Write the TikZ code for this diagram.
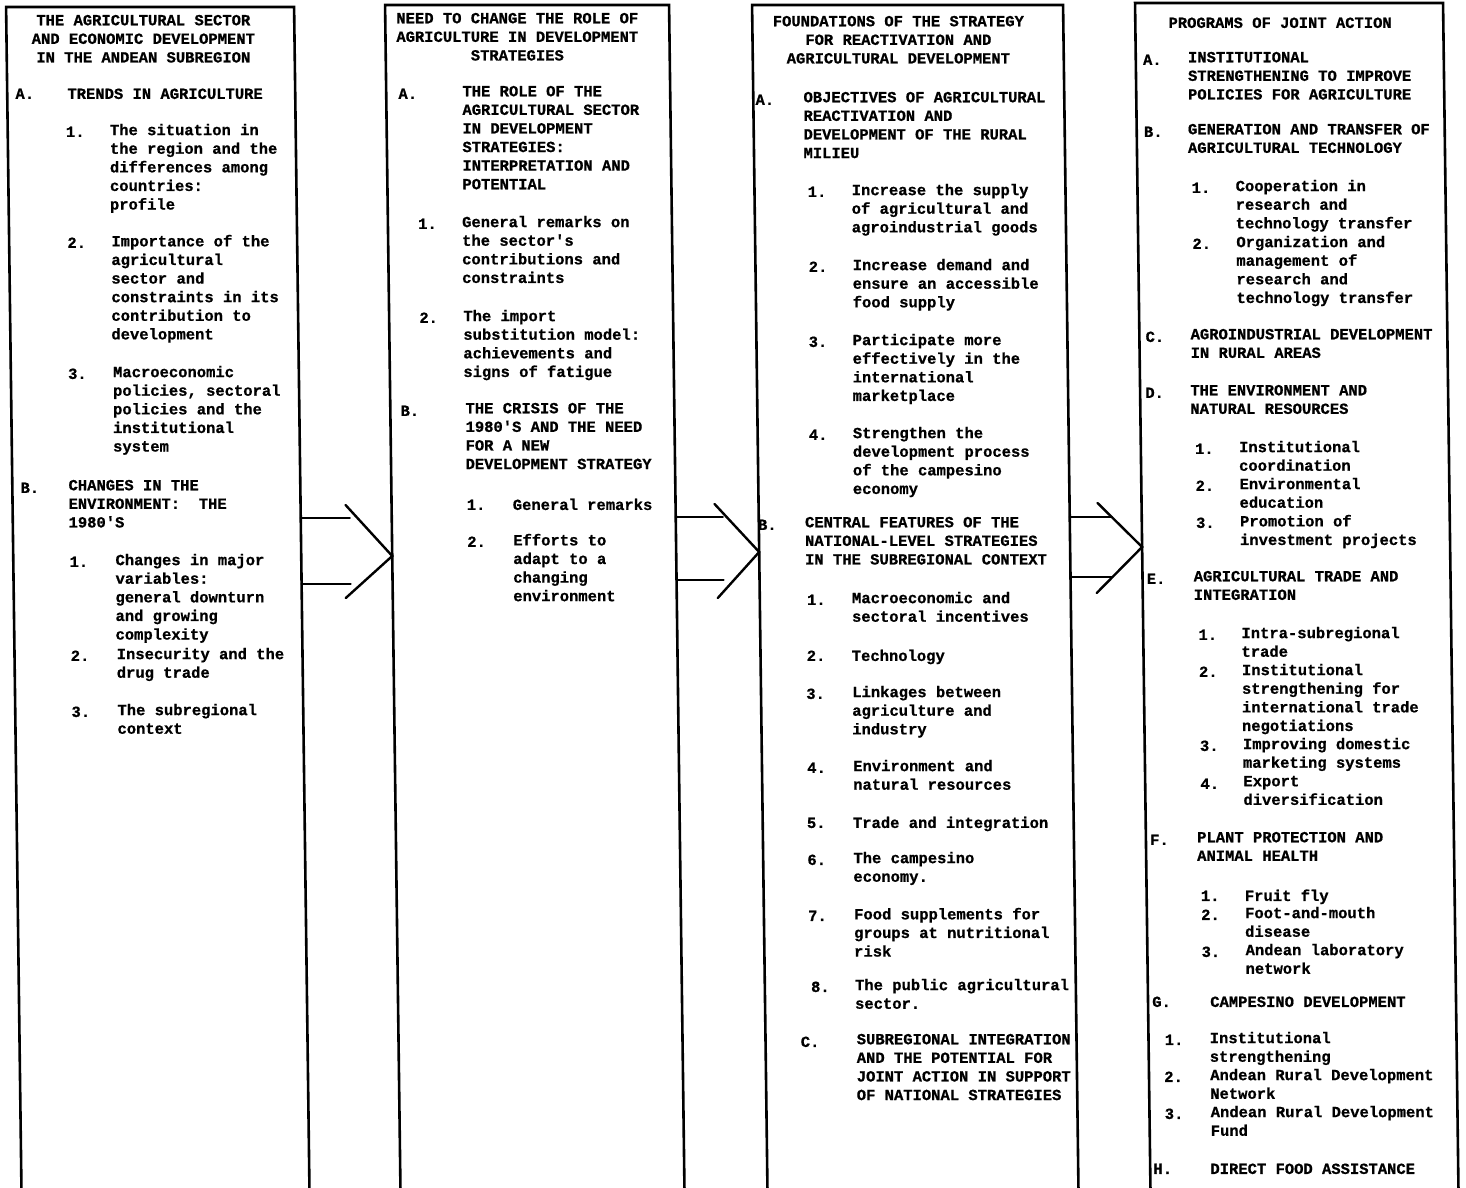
\documentclass[tikz,border=0pt]{standalone}
\usepackage{fontspec}
\usepackage{tikz}
\newfontfamily\tw{Liberation Mono}[BoldFeatures={FakeBold=0.8}]
\newcommand{\twfont}{\tw\bfseries\fontsize{15.5}{18.6}\selectfont\frenchspacing}

\tikzset{
  ttl/.style={anchor=north, yshift=11.3pt, align=center, inner sep=0pt, font=\twfont, execute at begin node=\strut},
  lbl/.style={anchor=north west, yshift=11.3pt, inner sep=0pt, font=\twfont, execute at begin node=\strut},
  txt/.style={anchor=north west, yshift=11.3pt, align=left, inner sep=0pt, font=\twfont, execute at begin node=\strut},
  frame/.style={line width=2.6pt},
  arr/.style={line width=2.4pt, line cap=round},
}

\begin{document}
\begin{tikzpicture}[x=1pt, y=-1pt]
        \useasboundingbox (0,0) rectangle (1466,1187);
        \begin{scope}[xslant=-0.013]
        % Frames
        \draw[frame] (6,1195) |- (294,7) -- (294,1195);
        \draw[frame] (385,1195) |- (669,5) -- (669,1195);
        \draw[frame] (752,1195) |- (1063,5) -- (1063,1195);
        \draw[frame] (1135,1195) |- (1443,3) -- (1443,1195);

        % Column 1
        \node[ttl] (c1t) at (143,26) {THE AGRICULTURAL SECTOR\\AND ECONOMIC DEVELOPMENT\\IN THE ANDEAN SUBREGION};
        \node[lbl] (c1A) at (14,97) {A.};
        \node[txt] (c1At) at (66,97) {TRENDS IN AGRICULTURE};
        \node[lbl] (c1A1) at (64,135) {1.};
        \node[txt] (c1A1t) at (108,135) {The situation in\\the region and the\\differences among\\countries:\\profile};
        \node[lbl] (c1A2) at (64,246) {2.};
        \node[txt] (c1A2t) at (108,246) {Importance of the\\agricultural\\sector and\\constraints in its\\contribution to\\development};
        \node[lbl] (c1A3) at (63,377) {3.};
        \node[txt] (c1A3t) at (108,377) {Macroeconomic\\policies, sectoral\\policies and the\\institutional\\system};
        \node[lbl] (c1B) at (14,491) {B.};
        \node[txt] (c1Bt) at (62,491) {CHANGES IN THE\\ENVIRONMENT:\ \ THE\\1980'S};
        \node[lbl] (c1B1) at (62,565) {1.};
        \node[txt] (c1B1t) at (108,565) {Changes in major\\variables:\\general downturn\\and growing\\complexity};
        \node[lbl] (c1B2) at (62,659) {2.};
        \node[txt] (c1B2t) at (108,659) {Insecurity and the\\drug trade};
        \node[lbl] (c1B3) at (62,715) {3.};
        \node[txt] (c1B3t) at (108,715) {The subregional\\context};

        % Column 2
        \node[ttl] (c2t) at (517,24) {NEED TO CHANGE THE ROLE OF\\AGRICULTURE IN DEVELOPMENT\\STRATEGIES};
        \node[lbl] (c2A) at (397,97) {A.};
        \node[txt] (c2At) at (461,97) {THE ROLE OF THE\\AGRICULTURAL SECTOR\\IN DEVELOPMENT\\STRATEGIES:\\INTERPRETATION AND\\POTENTIAL};
        \node[lbl] (c2A1) at (415,227) {1.};
        \node[txt] (c2A1t) at (459,227) {General remarks on\\the sector's\\contributions and\\constraints};
        \node[lbl] (c2A2) at (415,321) {2.};
        \node[txt] (c2A2t) at (459,321) {The import\\substitution model:\\achievements and\\signs of fatigue};
        \node[lbl] (c2B) at (395,414) {B.};
        \node[txt] (c2Bt) at (460,414) {THE CRISIS OF THE\\1980'S AND THE NEED\\FOR A NEW\\DEVELOPMENT STRATEGY};
        \node[lbl] (c2B1) at (460,508) {1.};
        \node[txt] (c2B1t) at (506,508) {General remarks};
        \node[lbl] (c2B2) at (460,545) {2.};
        \node[txt] (c2B2t) at (506,545) {Efforts to\\adapt to a\\changing\\environment};

        % Column 3
        \node[ttl] (c3t) at (898,27) {FOUNDATIONS OF THE STRATEGY\\FOR REACTIVATION AND\\AGRICULTURAL DEVELOPMENT};
        \node[lbl] (c3A) at (754,103) {A.};
        \node[txt] (c3At) at (802,103) {OBJECTIVES OF AGRICULTURAL\\REACTIVATION AND\\DEVELOPMENT OF THE RURAL\\MILIEU};
        \node[lbl] (c3A1) at (805,195) {1.};
        \node[txt] (c3A1t) at (849,195) {Increase the supply\\of agricultural and\\agroindustrial goods};
        \node[lbl] (c3A2) at (805,270) {2.};
        \node[txt] (c3A2t) at (849,270) {Increase demand and\\ensure an accessible\\food supply};
        \node[lbl] (c3A3) at (804,345) {3.};
        \node[txt] (c3A3t) at (848,345) {Participate more\\effectively in the\\international\\marketplace};
        \node[lbl] (c3A4) at (803,438) {4.};
        \node[txt] (c3A4t) at (847,438) {Strengthen the\\development process\\of the campesino\\economy};
        \node[lbl] (c3B) at (751,528) {B.};
        \node[txt] (c3Bt) at (798,528) {CENTRAL FEATURES OF THE\\NATIONAL-LEVEL STRATEGIES\\IN THE SUBREGIONAL CONTEXT};
        \node[lbl] (c3B1) at (799,603) {1.};
        \node[txt] (c3B1t) at (844,603) {Macroeconomic and\\sectoral incentives};
        \node[lbl] (c3B2) at (798,659) {2.};
        \node[txt] (c3B2t) at (843,659) {Technology};
        \node[lbl] (c3B3) at (797,697) {3.};
        \node[txt] (c3B3t) at (843,697) {Linkages between\\agriculture and\\industry};
        \node[lbl] (c3B4) at (797,771) {4.};
        \node[txt] (c3B4t) at (843,771) {Environment and\\natural resources};
        \node[lbl] (c3B5) at (796,826) {5.};
        \node[txt] (c3B5t) at (842,826) {Trade and integration};
        \node[lbl] (c3B6) at (796,863) {6.};
        \node[txt] (c3B6t) at (842,863) {The campesino\\economy.};
        \node[lbl] (c3B7) at (796,919) {7.};
        \node[txt] (c3B7t) at (842,919) {Food supplements for\\groups at nutritional\\risk};
        \node[lbl] (c3B8) at (798,990) {8.};
        \node[txt] (c3B8t) at (842,990) {The public agricultural\\sector.};
        \node[lbl] (c3C) at (787,1045) {C.};
        \node[txt] (c3Ct) at (843,1045) {SUBREGIONAL INTEGRATION\\AND THE POTENTIAL FOR\\JOINT ACTION IN SUPPORT\\OF NATIONAL STRATEGIES};

        % Column 4
        \node[txt] (c4t) at (1168,26) {PROGRAMS OF JOINT ACTION};
        \node[lbl] (c4A) at (1142,63) {A.};
        \node[txt] (c4At) at (1187,63) {INSTITUTIONAL\\STRENGTHENING TO IMPROVE\\POLICIES FOR AGRICULTURE};
        \node[lbl] (c4B) at (1142,135) {B.};
        \node[txt] (c4Bt) at (1186,135) {GENERATION AND TRANSFER OF\\AGRICULTURAL TECHNOLOGY};
        \node[lbl] (c4B1) at (1189,191) {1.};
        \node[txt] (c4B1t) at (1233,191) {Cooperation in\\research and\\technology transfer};
        \node[lbl] (c4B2) at (1189,247) {2.};
        \node[txt] (c4B2t) at (1233,247) {Organization and\\management of\\research and\\technology transfer};
        \node[lbl] (c4C) at (1141,340) {C.};
        \node[txt] (c4Ct) at (1186,340) {AGROINDUSTRIAL DEVELOPMENT\\IN RURAL AREAS};
        \node[lbl] (c4D) at (1140,396) {D.};
        \node[txt] (c4Dt) at (1185,396) {THE ENVIRONMENT AND\\NATURAL RESOURCES};
        \node[lbl] (c4D1) at (1189,452) {1.};
        \node[txt] (c4D1t) at (1233,452) {Institutional\\coordination};
        \node[lbl] (c4D2) at (1189,489) {2.};
        \node[txt] (c4D2t) at (1233,489) {Environmental\\education};
        \node[lbl] (c4D3) at (1189,526) {3.};
        \node[txt] (c4D3t) at (1233,526) {Promotion of\\investment projects};
        \node[lbl] (c4E) at (1139,582) {E.};
        \node[txt] (c4Et) at (1186,582) {AGRICULTURAL TRADE AND\\INTEGRATION};
        \node[lbl] (c4E1) at (1190,638) {1.};
        \node[txt] (c4E1t) at (1233,638) {Intra-subregional\\trade};
        \node[lbl] (c4E2) at (1190,675) {2.};
        \node[txt] (c4E2t) at (1233,675) {Institutional\\strengthening for\\international trade\\negotiations};
        \node[lbl] (c4E3) at (1190,749) {3.};
        \node[txt] (c4E3t) at (1233,749) {Improving domestic\\marketing systems};
        \node[lbl] (c4E4) at (1190,787) {4.};
        \node[txt] (c4E4t) at (1233,787) {Export\\diversification};
        \node[lbl] (c4F) at (1139,843) {F.};
        \node[txt] (c4Ft) at (1186,843) {PLANT PROTECTION AND\\ANIMAL HEALTH};
        \node[lbl] (c4F1) at (1189,899) {1.};
        \node[txt] (c4F1t) at (1233,899) {Fruit fly};
        \node[lbl] (c4F2) at (1189,918) {2.};
        \node[txt] (c4F2t) at (1233,918) {Foot-and-mouth\\disease};
        \node[lbl] (c4F3) at (1189,955) {3.};
        \node[txt] (c4F3t) at (1233,955) {Andean laboratory\\network};
        \node[lbl] (c4G) at (1139,1005) {G.};
        \node[txt] (c4Gt) at (1197,1005) {CAMPESINO DEVELOPMENT};
        \node[lbl] (c4G1) at (1151,1043) {1.};
        \node[txt] (c4G1t) at (1196,1043) {Institutional\\strengthening};
        \node[lbl] (c4G2) at (1150,1080) {2.};
        \node[txt] (c4G2t) at (1196,1080) {Andean Rural Development\\Network};
        \node[lbl] (c4G3) at (1150,1117) {3.};
        \node[txt] (c4G3t) at (1196,1117) {Andean Rural Development\\Fund};
        \node[lbl] (c4H) at (1138,1172) {H.};
        \node[txt] (c4Ht) at (1195,1172) {DIRECT FOOD ASSISTANCE};

        % Arrows
        \coordinate (a1tip) at (385,556);
        \coordinate (a1up) at (339,505);
        \coordinate (a1dn) at (338,598);
        \coordinate (a1s1) at (294,518);
        \coordinate (a1e1) at (343,518);
        \coordinate (a1s2) at (294,584);
        \coordinate (a1e2) at (343,584);
        \draw[arr] (a1up) -- (a1tip) -- (a1dn);
        \draw[arr] (a1s1) -- (a1e1);
        \draw[arr] (a1s2) -- (a1e2);

        \coordinate (a2tip) at (752,552);
        \coordinate (a2up) at (708,504);
        \coordinate (a2dn) at (710,598);
        \coordinate (a2s1) at (669,517);
        \coordinate (a2e1) at (716,517);
        \coordinate (a2s2) at (669,580);
        \coordinate (a2e2) at (716,580);
        \draw[arr] (a2up) -- (a2tip) -- (a2dn);
        \draw[arr] (a2s1) -- (a2e1);
        \draw[arr] (a2s2) -- (a2e2);

        \coordinate (a3tip) at (1135,547);
        \coordinate (a3up) at (1091,503);
        \coordinate (a3dn) at (1089,593);
        \coordinate (a3s1) at (1063,517);
        \coordinate (a3e1) at (1105,517);
        \coordinate (a3s2) at (1063,577);
        \coordinate (a3e2) at (1105,577);
        \draw[arr] (a3up) -- (a3tip) -- (a3dn);
        \draw[arr] (a3s1) -- (a3e1);
        \draw[arr] (a3s2) -- (a3e2);
        \end{scope}
    \end{tikzpicture}
\end{document}
